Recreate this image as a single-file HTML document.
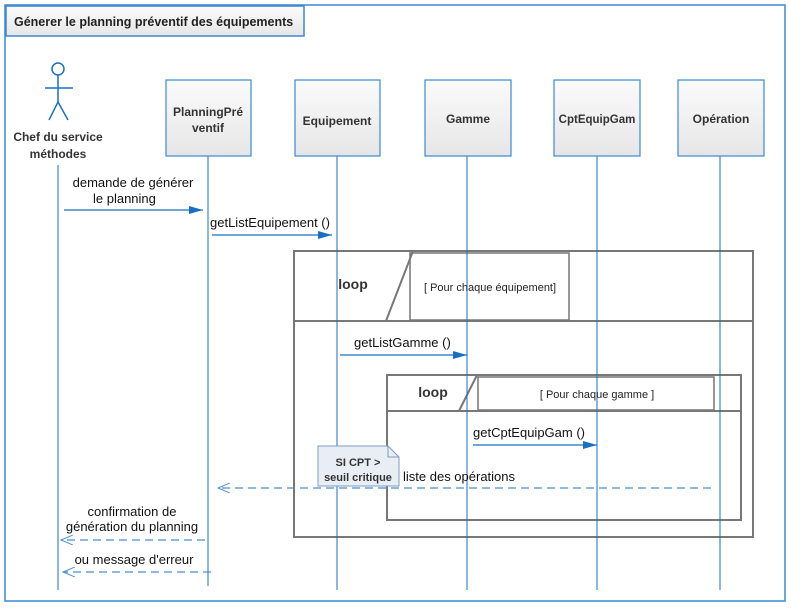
<!DOCTYPE html>
<html><head><meta charset="utf-8"><style>
body{margin:0;background:#fff;}
svg text{font-family:"Liberation Sans",sans-serif;}
</style></head><body>
<svg width="791" height="607" viewBox="0 0 791 607" xmlns="http://www.w3.org/2000/svg">
<defs>
<linearGradient id="g" x1="0" y1="0" x2="0" y2="1"><stop offset="0" stop-color="#fbfbfb"/><stop offset="1" stop-color="#e6e6e6"/></linearGradient>
<marker id="af" markerWidth="14" markerHeight="8" refX="14" refY="4" orient="auto" markerUnits="userSpaceOnUse"><path d="M0,0 L14,4 L0,8z" fill="#1a6fc0"/></marker>
<marker id="ao" markerWidth="13" markerHeight="10" refX="12" refY="5" orient="auto" markerUnits="userSpaceOnUse"><path d="M0,0 L12,5 L0,10" fill="none" stroke="#4a90d0" stroke-width="1"/></marker>
</defs>
<rect x="5" y="5" width="780" height="596" fill="#fff" stroke="#3a8ad0" stroke-width="1.5"/>
<rect x="6" y="6" width="298" height="30" fill="url(#g)" stroke="#3a8ad0" stroke-width="1.5"/>
<text x="14" y="26" font-size="12.5" font-weight="bold" fill="#222">Génerer le planning préventif des équipements</text>

<g stroke="#1a6fc0" stroke-width="1.5" fill="none">
<circle cx="58" cy="69" r="6"/>
<line x1="58" y1="75" x2="58" y2="102"/>
<line x1="45" y1="88" x2="73" y2="88"/>
<line x1="58" y1="102" x2="49" y2="120"/>
<line x1="58" y1="102" x2="68" y2="120"/>
</g>
<text x="58" y="141" font-size="12" font-weight="bold" fill="#333" text-anchor="middle">Chef du service</text>
<text x="58" y="158" font-size="12" font-weight="bold" fill="#333" text-anchor="middle">méthodes</text>

<g stroke="#1a6fc0" stroke-width="1">
<line x1="58" y1="165" x2="58" y2="590"/>
<line x1="208" y1="156" x2="208" y2="586"/>
<line x1="337" y1="156" x2="337" y2="590"/>
<line x1="467" y1="156" x2="467" y2="590"/>
<line x1="597" y1="156" x2="597" y2="590"/>
<line x1="720" y1="156" x2="720" y2="590"/>
</g>
<g stroke="#3a8ad0" stroke-width="1.2" fill="url(#g)">
<rect x="166" y="80" width="85" height="76"/>
<rect x="295" y="80" width="85" height="76"/>
<rect x="425" y="80" width="86" height="76"/>
<rect x="554" y="80" width="86" height="76"/>
<rect x="678" y="80" width="86" height="76"/>
</g>
<g font-size="12" font-weight="bold" fill="#333" text-anchor="middle">
<text x="208" y="116">PlanningPré</text><text x="208" y="132">ventif</text>
<text x="337" y="125">Equipement</text>
<text x="468" y="123">Gamme</text>
<text x="597" y="123" font-size="11.5">CptEquipGam</text>
<text x="721" y="123">Opération</text>
</g>

<g stroke="#777" stroke-width="2" fill="none">
<rect x="294" y="251" width="459" height="286"/>
<line x1="294" y1="321" x2="753" y2="321"/>
<line x1="413" y1="251" x2="386" y2="321"/>
<rect x="410" y="253" width="159" height="67" stroke-width="1.5"/>
<rect x="387" y="375" width="354" height="145"/>
<line x1="387" y1="411" x2="741" y2="411"/>
<line x1="477" y1="375" x2="459" y2="411"/>
<rect x="478" y="377" width="236" height="33" stroke-width="1.5"/>
</g>
<g stroke="#1a6fc0" stroke-width="1">
<line x1="337" y1="240" x2="337" y2="590"/>
<line x1="467" y1="240" x2="467" y2="590"/>
<line x1="597" y1="240" x2="597" y2="590"/>
<line x1="720" y1="240" x2="720" y2="590"/>
</g>
<text x="353" y="289" font-size="14" font-weight="bold" fill="#333" text-anchor="middle">loop</text>
<text x="490" y="291" font-size="11" fill="#222" text-anchor="middle">[ Pour chaque équipement]</text>
<text x="433" y="397" font-size="14" font-weight="bold" fill="#333" text-anchor="middle">loop</text>
<text x="597" y="398" font-size="11" fill="#222" text-anchor="middle">[ Pour chaque gamme ]</text>

<g stroke="#1a6fc0" stroke-width="1.2">
<line x1="64" y1="210" x2="203" y2="210" marker-end="url(#af)"/>
<line x1="212" y1="235" x2="332" y2="235" marker-end="url(#af)"/>
<line x1="340" y1="355" x2="467" y2="355" marker-end="url(#af)"/>
<line x1="473" y1="445" x2="597" y2="445" marker-end="url(#af)"/>
</g>
<g stroke="#4a90d0" stroke-width="1.2" stroke-dasharray="8,5" fill="none">
<line x1="711" y1="488" x2="218" y2="488" marker-end="url(#ao)"/>
<line x1="205" y1="540" x2="61" y2="540" marker-end="url(#ao)"/>
<line x1="211" y1="572" x2="63" y2="572" marker-end="url(#ao)"/>
</g>
<g font-size="13" fill="#111">
<text x="133" y="187" text-anchor="middle">demande de générer</text>
<text x="93" y="203">le planning</text>
<text x="210" y="227">getListEquipement ()</text>
<text x="354" y="347">getListGamme ()</text>
<text x="473" y="437">getCptEquipGam ()</text>
<text x="403" y="481">liste des opérations</text>
<text x="132" y="516" text-anchor="middle">confirmation de</text>
<text x="132" y="531" text-anchor="middle">génération du planning</text>
<text x="134" y="564" text-anchor="middle">ou message d'erreur</text>
</g>

<path d="M318,446 L388,446 L399,457 L399,486 L318,486 Z" fill="#e9eef5" stroke="#7a9cc0" stroke-width="1"/>
<path d="M388,446 L388,457 L399,457" fill="none" stroke="#7a9cc0" stroke-width="1"/>
<text x="358" y="466" font-size="11" font-weight="bold" fill="#333" text-anchor="middle">SI CPT &gt;</text>
<text x="358" y="481" font-size="11" font-weight="bold" fill="#333" text-anchor="middle">seuil critique</text>
</svg>
</body></html>
